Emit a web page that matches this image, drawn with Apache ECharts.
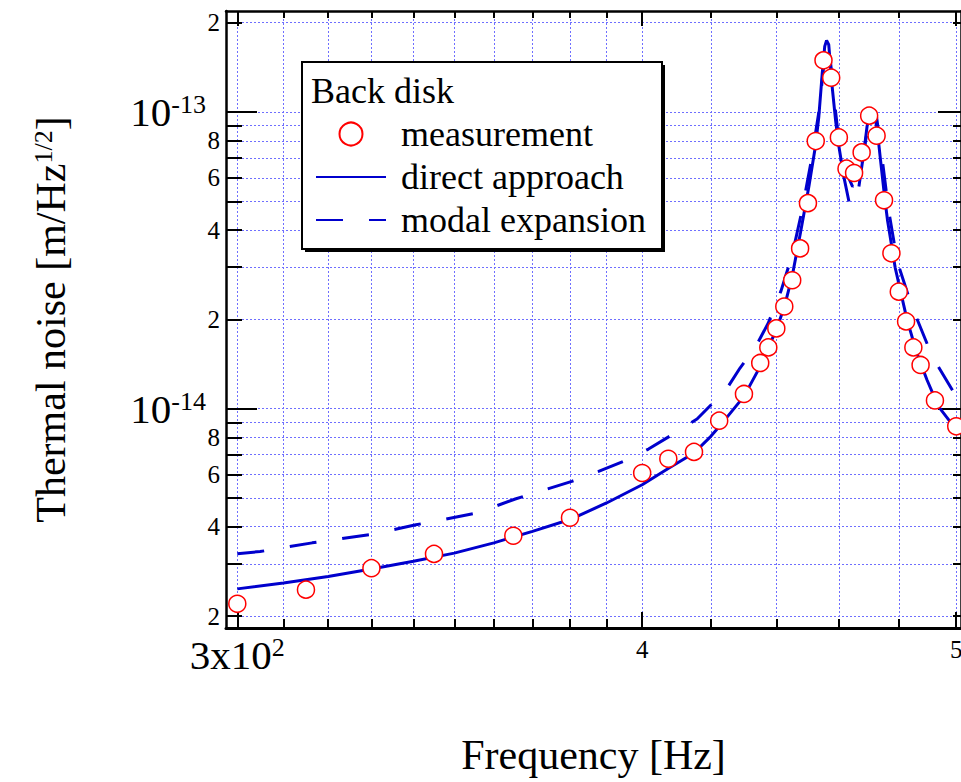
<!DOCTYPE html>
<html>
<head>
<meta charset="utf-8">
<script src="https://cdn.jsdelivr.net/npm/echarts@6/dist/echarts.min.js"></script>
<style>
html,body{margin:0;padding:0;background:#fff;}
#chart{width:961px;height:782px;}
</style>
</head>
<body>
<div id="chart"></div>
<script>
// ---------------- data ----------------
const measFreq = [300, 315, 330, 345, 365, 380, 400, 407.5, 415, 422.5, 430, 435, 437.5, 440, 442.5, 445, 447.5, 450, 452.5, 455, 457.5, 460, 462.5, 465, 467.5, 470, 472.5, 475, 477.5, 480, 482.5, 485, 487.5, 492.5, 500];
const measVal = [2.20e-15, 2.455e-15, 2.90e-15, 3.24e-15, 3.73e-15, 4.29e-15, 6.07e-15, 6.78e-15, 7.15e-15, 9.11e-15, 1.121e-14, 1.426e-14, 1.609e-14, 1.865e-14, 2.21e-14, 2.71e-14, 3.47e-14, 4.93e-14, 7.98e-14, 1.493e-13, 1.305e-13, 8.21e-14, 6.44e-14, 6.23e-14, 7.31e-14, 9.72e-14, 8.32e-14, 5.04e-14, 3.34e-14, 2.48e-14, 1.969e-14, 1.609e-14, 1.404e-14, 1.066e-14, 8.72e-15];

const directFreq = [300, 310, 320, 330, 340, 350, 360, 370, 380, 390, 400, 407.7, 415, 420, 422.6, 430, 435, 440, 442.5, 445, 447.6, 450.3, 452.4, 453.5, 454.6, 455.4, 456.0, 456.7, 457.8, 458.9, 460.0, 461.6, 463.3, 465, 466.6, 468.2, 469.3, 470.5, 471.6, 472.7, 473.8, 475.3, 476.2, 478.8, 482.8, 486.2, 489.7, 493.7, 500];
const directVal = [2.47e-15, 2.585e-15, 2.72e-15, 2.88e-15, 3.06e-15, 3.26e-15, 3.53e-15, 3.86e-15, 4.23e-15, 4.81e-15, 5.54e-15, 6.31e-15, 7.09e-15, 8.07e-15, 8.72e-15, 1.10e-14, 1.389e-14, 1.846e-14, 2.2e-14, 2.8e-14, 3.91e-14, 5.61e-14, 7.66e-14, 9.66e-14, 1.353e-13, 1.664e-13, 1.743e-13, 1.686e-13, 1.22e-13, 9.42e-14, 7.66e-14, 6.07e-14, 4.99e-14, null, 5.61e-14, 7.27e-14, 8.94e-14, 1.005e-13, 1.005e-13, 8.72e-14, 6.91e-14, 5.06e-14, 4.3e-14, 2.98e-14, 2.0e-14, 1.54e-14, 1.252e-14, 1.018e-14, 8.5e-15];

const modalFreq = [300, 304.9, 316.4, 329.5, 340.6, 355.6, 365.5, 380.5, 387.8, 395.8, 401.8, 408.6, 415.9, 424.6, 428.8, 433.4, 437.5, 441.5, 445, 448, 451, 453.5, 455.3, 456.2, 457.2, 458.5, 460, 462, 464.5, 467, 469, 470.8, 472.5, 474.5, 476.5, 479.5, 484.5, 491.7, 500];
const modalVal = [3.245e-15, 3.30e-15, 3.53e-15, 3.76e-15, 4.06e-15, 4.45e-15, 4.96e-15, 5.69e-15, 6.15e-15, 6.73e-15, 7.31e-15, 8.17e-15, 9.23e-15, 1.159e-14, 1.371e-14, 1.602e-14, 1.945e-14, 2.5e-14, 3.3e-14, 4.6e-14, 6.8e-14, 1.0e-13, 1.5e-13, 1.68e-13, 1.5e-13, 1.1e-13, 8.0e-14, 6.4e-14, 5.6e-14, 6.2e-14, 8.2e-14, 1.0e-13, 9.6e-14, 6.8e-14, 4.7e-14, 3.13e-14, 2.21e-14, 1.49e-14, 1.10e-14];

// axes
const xRange = [297.6, 501.7];
const yRange = [1.823e-15, 2.19e-13];
const xMinorTicks = [300, 310, 320, 330, 340, 350, 360, 370, 380, 390, 400, 420, 440, 460, 480, 500];
const xMajorTicks = [300, 400, 500];
const xLabelValues = [300, 400, 500];
const xLabelTexts = ['3x10^2', '4', '5'];
const yMinorTicks = [2e-15, 3e-15, 4e-15, 5e-15, 6e-15, 7e-15, 8e-15, 9e-15, 1e-14, 2e-14, 3e-14, 4e-14, 5e-14, 6e-14, 7e-14, 8e-14, 9e-14, 1e-13, 2e-13];
const yMajorTicks = [1e-14, 1e-13];
const yLabelValues = [2e-15, 4e-15, 6e-15, 8e-15, 1e-14, 2e-14, 4e-14, 6e-14, 8e-14, 1e-13, 2e-13];
const yLabelTexts = ['2', '4', '6', '8', '10^-14', '2', '4', '6', '8', '10^-13', '2'];

const legendTitle = 'Back disk';
const seriesNames = ['measurement', 'direct approach', 'modal expansion'];
const xName = 'Frequency [Hz]';
const yNameMain = 'Thermal noise [m/Hz';
const yNameSup = '1/2';
const yNameEnd = ']';

// ---------------- helpers ----------------
const L = v => Math.log10(v);
const FONT = '"Liberation Serif", "Times New Roman", Times, serif';
const BLUE = '#0000cd';
const GRID = '#6f6fff';

function labelFor(values, texts, v, prefix, spacer) {
  for (let i = 0; i < values.length; i++) {
    if (Math.abs(L(values[i]) - v) < 1e-6) {
      const t = texts[i];
      if (t.indexOf('^') >= 0) {
        const p = t.split('^');
        return '{' + prefix + 'b|' + p[0] + '}{' + prefix + 's|' + p[1] + '}' + (spacer ? '{sp| }' : '');
      }
      return '{' + prefix + 'd|' + t + '}';
    }
  }
  return '';
}

const richY = {
  yd: {fontFamily: FONT, fontSize: 25, lineHeight: 25, color: '#000'},
  yb: {fontFamily: FONT, fontSize: 41, lineHeight: 41, verticalAlign: 'bottom', color: '#000'},
  ys: {fontFamily: FONT, fontSize: 26, lineHeight: 26, verticalAlign: 'top', padding: [0, 0, 28, 0], color: '#000'},
  sp: {fontFamily: FONT, fontSize: 12, width: 14}
};
const richX = {
  xd: {fontFamily: FONT, fontSize: 25, lineHeight: 25, padding: [5, 0, 0, 0], color: '#000'},
  xb: {fontFamily: FONT, fontSize: 41, lineHeight: 41, verticalAlign: 'bottom', color: '#000'},
  xs: {fontFamily: FONT, fontSize: 26, lineHeight: 26, verticalAlign: 'top', padding: [0, 0, 31, 0], color: '#000'}
};

const axisLineStyle = w => ({show: true, onZero: false, lineStyle: {color: '#000', width: w}});
const tickStyle = {color: '#000', width: 2};

function xAxisDef(position, ticks, len, opts) {
  return Object.assign({
    type: 'value', gridIndex: 0, position: position,
    min: L(xRange[0]), max: L(xRange[1]),
    axisLine: axisLineStyle(position === 'bottom' ? 3 : 2.5),
    axisTick: {show: true, inside: true, length: len, customValues: ticks.map(L), lineStyle: tickStyle},
    axisLabel: {show: false},
    splitLine: {show: false},
    nameMoveOverlap: false
  }, opts || {});
}
function yAxisDef(position, ticks, len, opts) {
  return Object.assign({
    type: 'value', gridIndex: 0, position: position,
    min: L(yRange[0]), max: L(yRange[1]),
    axisLine: axisLineStyle(2.5),
    axisTick: {show: true, inside: true, length: len, customValues: ticks.map(L), lineStyle: tickStyle},
    axisLabel: {show: false},
    splitLine: {show: false},
    nameMoveOverlap: false
  }, opts || {});
}

const gridLine = {show: true, lineStyle: {color: GRID, width: 1, type: [2, 2]}};
const hiddenSymbol = {color: 'rgba(0,0,0,0)', borderColor: 'rgba(0,0,0,0)', borderWidth: 0, opacity: 0};

const option = {
  animation: false,
  backgroundColor: '#fff',
  textStyle: {fontFamily: FONT},
  grid: {left: 226, right: 0, top: 11, bottom: 154, containLabel: false, outerBoundsMode: 'none'},
  xAxis: [
    xAxisDef('bottom', xMinorTicks, 9, {
      splitLine: gridLine,
      axisLabel: {
        show: true, inside: false, margin: 6,
        customValues: xLabelValues.map(L),
        formatter: v => labelFor(xLabelValues, xLabelTexts, v, 'x', false),
        rich: richX, hideOverlap: false
      },
      name: xName, nameLocation: 'middle', nameGap: 106,
      nameTextStyle: {fontFamily: FONT, fontSize: 42, color: '#000'}
    }),
    xAxisDef('bottom', xMajorTicks, 16, {axisLine: {show: false}}),
    xAxisDef('top', xMinorTicks, 7),
    xAxisDef('top', xMajorTicks, 15, {axisLine: {show: false}})
  ],
  yAxis: [
    yAxisDef('left', yMinorTicks, 16, {
      splitLine: gridLine,
      axisLabel: {
        show: true, inside: false, margin: 6,
        customValues: yLabelValues.map(L),
        formatter: v => labelFor(yLabelValues, yLabelTexts, v, 'y', true),
        rich: richY, hideOverlap: false
      },
      name: '{n|' + yNameMain + '}{s|' + yNameSup + '}{n|' + yNameEnd + '}',
      nameLocation: 'middle', nameGap: 154, nameRotate: 90,
      nameTextStyle: {
        fontFamily: FONT, fontSize: 42, color: '#000',
        rich: {
          n: {fontFamily: FONT, fontSize: 42, lineHeight: 42, verticalAlign: 'bottom', color: '#000'},
          s: {fontFamily: FONT, fontSize: 26, lineHeight: 26, verticalAlign: 'top', padding: [0, 0, 28, 0], color: '#000'}
        }
      }
    }),
    yAxisDef('left', yMajorTicks, 31, {axisLine: {show: false}}),
    yAxisDef('right', yMinorTicks, 8),
    yAxisDef('right', yMajorTicks, 23, {axisLine: {show: false}})
  ],
  legend: {
    data: [
      {name: seriesNames[0]},
      {name: seriesNames[1], itemStyle: hiddenSymbol},
      {name: seriesNames[2], itemStyle: hiddenSymbol}
    ],
    orient: 'vertical',
    left: 315, top: 116,
    itemWidth: 70, itemHeight: 23, itemGap: 7,
    selectedMode: false,
    padding: 0,
    textStyle: {fontFamily: FONT, fontSize: 36, lineHeight: 36, color: '#000', padding: [0, 0, 0, 10]},
    z: 20
  },
  graphic: [
    {type: 'rect', z: 15, silent: true, shape: {x: 305, y: 65, width: 360, height: 187}, style: {fill: '#000'}},
    {type: 'rect', z: 16, silent: true, shape: {x: 302, y: 62, width: 360, height: 187}, style: {fill: '#fff', stroke: '#000', lineWidth: 2}},
    {type: 'text', z: 21, silent: true, x: 311, y: 91, style: {text: legendTitle, fontFamily: FONT, fontSize: 36, fill: '#000', verticalAlign: 'middle', align: 'left'}}
  ],
  series: [
    {
      name: seriesNames[2], type: 'line', xAxisIndex: 0, yAxisIndex: 0,
      data: modalFreq.map((f, i) => [L(f), L(modalVal[i])]),
      symbol: 'none', showSymbol: false, smooth: false,
      lineStyle: {color: BLUE, width: 3, type: [27, 26]},
      itemStyle: {color: BLUE},
      z: 3
    },
    {
      name: seriesNames[1], type: 'line', xAxisIndex: 0, yAxisIndex: 0,
      data: directFreq.map((f, i) => [L(f), directVal[i] == null ? null : L(directVal[i])]),
      symbol: 'none', showSymbol: false, smooth: false, connectNulls: false,
      lineStyle: {color: BLUE, width: 3, type: 'solid'},
      itemStyle: {color: BLUE},
      z: 4
    },
    {
      name: seriesNames[0], type: 'scatter', xAxisIndex: 0, yAxisIndex: 0,
      data: measFreq.map((f, i) => [L(f), L(measVal[i])]),
      symbol: 'circle', symbolSize: 17,
      itemStyle: {color: '#fff', borderColor: '#ff0000', borderWidth: 1.5, opacity: 1},
      z: 5
    }
  ]
};

const chart = echarts.init(document.getElementById('chart'), null, {renderer: 'svg', width: 961, height: 782});
chart.setOption(option);
</script>
</body>
</html>
